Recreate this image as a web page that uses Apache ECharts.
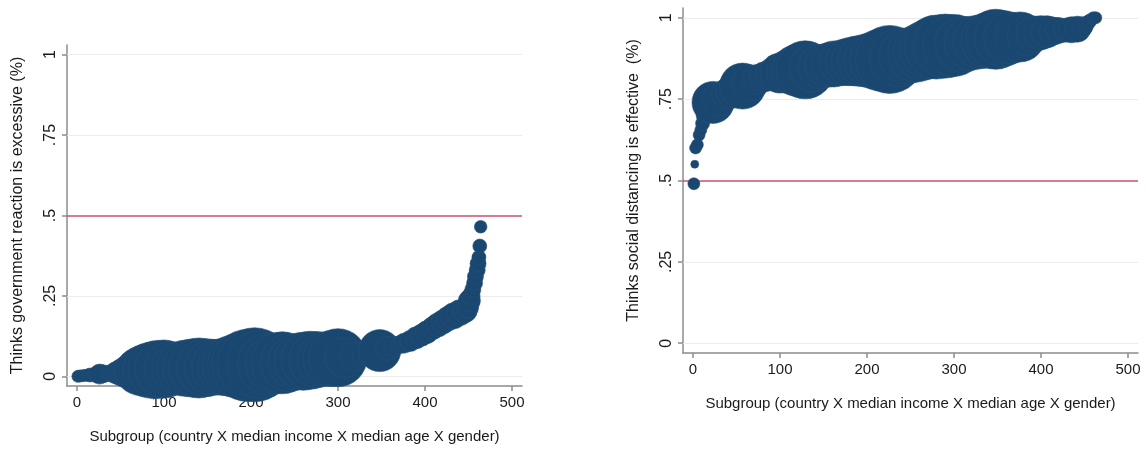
<!DOCTYPE html>
<html>
<head>
<meta charset="utf-8">
<script src="https://cdn.jsdelivr.net/npm/echarts@6/dist/echarts.min.js"></script>
<style>
html,body{margin:0;padding:0;background:#fff;}
#chart{width:1146px;height:449px;}
</style>
</head>
<body>
<div id="chart"></div>
<script>
// ---- Left panel: Thinks government reaction is excessive ----
const govX = [1,3,6,9,12,15,18,22,26,30, 35,40,45,50,55,60,66,72,78,85, 92,100,108,116,124,132,140,148,156,164, 172,180,188,196,204,212,220,228,236,244, 252,260,268,276,284,292,300,308,318,328, 336,348,357,364,370,376,383,390,396,402, 409,415,421,427,433,440,446,449,451,453, 455,457,458,460,461,462,463,464];
const govY = [.000,.001,.002,.003,.004,.004,.005,.006,.007,.008, .009,.010,.011,.012,.013,.014,.015,.016,.018,.019, .021,.023,.024,.025,.025,.026,.026,.027,.028,.029, .030,.032,.033,.034,.036,.037,.038,.040,.042,.043, .045,.047,.050,.052,.053,.055,.058,.059,.062,.065, .068,.080,.087,.093,.098,.103,.110,.120,.128,.137, .150,.160,.170,.180,.188,.198,.205,.215,.235,.250, .270,.290,.310,.330,.350,.370,.405,.465];
const govW = [36,36,36,36,36,49,36,64,100,81, 64,81,121,169,225,289,400,576,676,784, 841,841,729,676,784,841,900,841,784,784, 841,961,1089,1296,1369,1156,961,900,961,841, 784,841,841,784,729,784,841,400,196,100, 81,441,144,100,81,100,110,121,121,130, 130,144,144,150,169,169,150,121,121,81, 64,64,64,64,64,49,49,40];

// ---- Right panel: Thinks social distancing is effective ----
const sdX = [1,2,3,5,7,9,11,14,18,23, 30,38,46,57,66,74,82,90,100,110, 120,129,138,146,154,162,172,180,188,196, 206,216,226,236,246,256,264,272,280,290, 300,310,320,330,340,348,356,364,376,384, 392,400,407,414,420,428,435,442,448,452, 456,460,463];
const sdY = [.490,.550,.600,.610,.640,.655,.675,.700,.725,.740, .750,.765,.775,.790,.800,.810,.818,.825,.830,.835, .838,.840,.845,.850,.854,.858,.862,.865,.867,.868, .869,.870,.872,.877,.883,.888,.897,.905,.910,.913, .915,.918,.922,.926,.931,.934,.936,.938,.941,.945, .950,.954,.957,.959,.961,.962,.963,.965,.972,.980, .990,1.000,1.000];
const sdW = [36,16,36,36,36,36,49,81,196,441, 289,225,289,529,324,225,225,256,400,484, 676,841,576,484,484,529,529,576,625,676, 784,961,1156,841,784,784,841,900,1024,1024, 961,784,729,729,784,900,784,676,625,400, 324,289,256,196,169,144,169,169,100,64, 49,36,36];

const xTicks = [0,100,200,300,400,500];
const yTicks = [0,0.25,0.5,0.75,1];
const gridLevels = [0,0.25,0.75,1];
const refLevel = 0.5;
const xTitle = 'Subgroup (country X median income X median age X gender)';
const yTitleL = 'Thinks government reaction is excessive (%)';
const yTitleR = 'Thinks social distancing is effective  (%)';

const FONT = '"Liberation Sans", Arial, sans-serif';
const TXT = '#1a1a1a';
const AX = '#8c8c8c';
const NAVY = '#1a476f';

function yFmt(v){
  if (v === 0) return '0';
  if (v === 1) return '1';
  return String(v).replace(/^0\./, '.');
}

function mkX(gi){
  return {
    type:'value', gridIndex:gi, min:-11.5, max:511.5,
    name:xTitle, nameLocation:'middle', nameGap:43,
    nameTextStyle:{fontFamily:FONT,fontSize:15,color:TXT},
    axisLine:{show:true,onZero:false,lineStyle:{color:AX,width:1.5}},
    axisTick:{show:true,length:5,customValues:xTicks,lineStyle:{color:AX,width:1.5}},
    axisLabel:{customValues:xTicks,fontFamily:FONT,fontSize:15,color:TXT,margin:9},
    splitLine:{show:false}
  };
}
function mkY(gi,title){
  return {
    type:'value', gridIndex:gi, min:-0.03, max:1.03,
    name:title, nameLocation:'middle', nameGap:41, nameRotate:90,
    nameTextStyle:{fontFamily:FONT,fontSize:16,color:TXT},
    axisLine:{show:true,onZero:false,lineStyle:{color:AX,width:1.5}},
    axisTick:{show:true,length:5,customValues:yTicks,lineStyle:{color:AX,width:1.5}},
    axisLabel:{customValues:yTicks,rotate:90,fontFamily:FONT,fontSize:16,color:TXT,margin:8,formatter:yFmt},
    splitLine:{show:false}
  };
}
function refLines(){
  const d = gridLevels.map(v => ({yAxis:v, lineStyle:{color:'#ececec',width:1,type:'solid'}}));
  d.push({yAxis:refLevel, lineStyle:{color:'#c8506e',width:1.5,type:'solid'}});
  return {silent:true, symbol:['none','none'], z:1, label:{show:false}, data:d};
}
function mkSeries(gi,xs,ys,ws){
  return {
    type:'scatter', xAxisIndex:gi, yAxisIndex:gi, z:3, clip:false,
    data: xs.map((x,i)=>[x, ys[i], ws[i]]),
    symbolSize: v => 2*Math.sqrt(v[2]),
    itemStyle:{color:NAVY, opacity:1, borderColor:'#23507a', borderWidth:0.6},
    emphasis:{disabled:true},
    markLine: refLines()
  };
}

const chart = echarts.init(document.getElementById('chart'), null, {renderer:'canvas'});
chart.setOption({
  backgroundColor:'#ffffff',
  animation:false,
  grid:[
    {left:67, top:45, width:455, height:343},
    {left:683, top:8, width:455, height:345}
  ],
  xAxis:[mkX(0), mkX(1)],
  yAxis:[mkY(0,yTitleL), mkY(1,yTitleR)],
  series:[mkSeries(0,govX,govY,govW), mkSeries(1,sdX,sdY,sdW)]
});
</script>
</body>
</html>
